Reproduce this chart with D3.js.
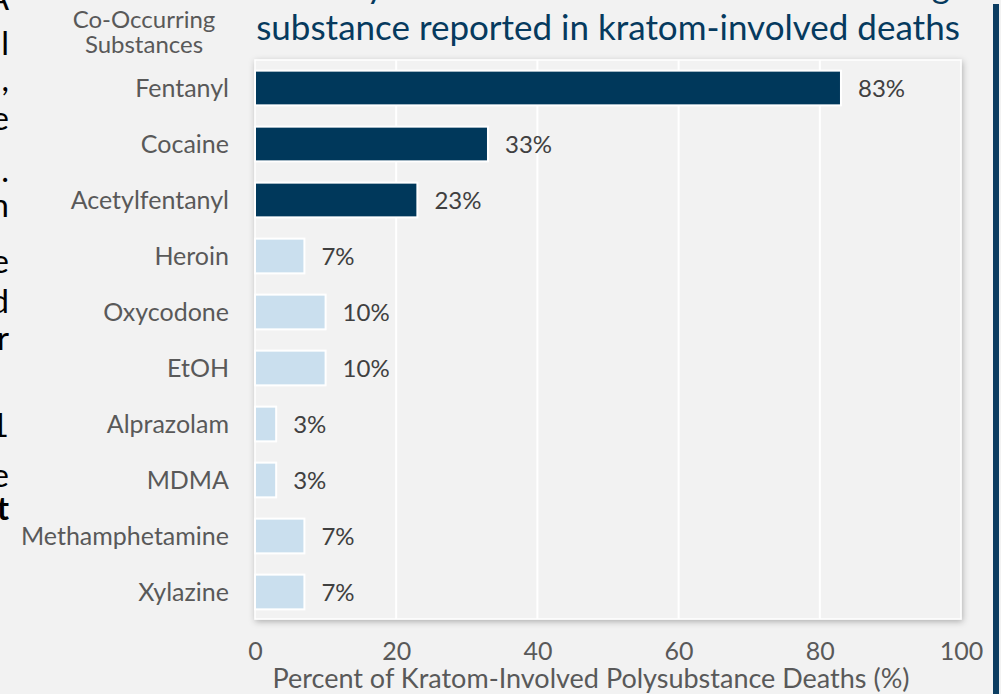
<!DOCTYPE html>
<html>
<head>
<meta charset="utf-8">
<script src="https://cdn.jsdelivr.net/npm/d3@7"></script>
<style>
  html, body { margin:0; padding:0; background:#f2f2f2; overflow:hidden; }
  svg { display:block; font-family: Lato, "Open Sans", sans-serif; }
</style>
</head>
<body>
<svg id="chart" width="1001" height="694"></svg>
<script>
// chart data
const substances = ["Fentanyl", "Cocaine", "Acetylfentanyl", "Heroin", "Oxycodone",
                    "EtOH", "Alprazolam", "MDMA", "Methamphetamine", "Xylazine"];
const percents = [83, 33, 23, 7, 10, 10, 3, 3, 7, 7];
const highlighted = [true, true, true, false, false, false, false, false, false, false];
const xTicks = [0, 20, 40, 60, 80, 100];
const titleLines = ["Fentanyl was the most common co-occurring", "substance reported in kratom-involved deaths"];
const yTitle = ["Co-Occurring", "Substances"];
const xTitle = "Percent of Kratom-Involved Polysubstance Deaths (%)";
// cut-off ends of the slide's body text on the left edge
const sideChars = ["A", "l", ",", "e", ".", "n", "e", "d", "r", "1", "e", "t"];
const sideBase  = [10, 55, 91, 130, 182, 217, 273, 313, 350, 437, 487, 520];

const W = 1001, H = 694;
const plot = {left:255, right:961, top:60, bottom:619};
const labelSize = 25;
const svg = d3.select("#chart");

// drop shadow for the plot frame
let defs = svg.append("defs");
let f = defs.append("filter").attr("id", "shadow")
  .attr("x", "-5%").attr("y", "-5%").attr("width", "110%").attr("height", "110%");
f.append("feDropShadow").attr("dx", 1).attr("dy", 2).attr("stdDeviation", 3)
  .attr("flood-color", "#000").attr("flood-opacity", 0.28);

svg.append("rect").attr("width", W).attr("height", H).attr("fill", "#f2f2f2");

// right accent bar of the slide
svg.append("rect").attr("x", 993).attr("y", 4).attr("width", 6).attr("height", H)
  .attr("fill", "#0c3d61");

// side text fragments
svg.append("g").selectAll("text").data(sideChars).enter().append("text")
  .attr("x", 9).attr("y", (d, i) => sideBase[i])
  .attr("text-anchor", "end")
  .attr("font-size", 33)
  .attr("font-weight", (d, i) => i == sideChars.length - 1 ? "bold" : "normal")
  .attr("fill", "#000")
  .text(d => d);

// title (first line is cut off by the top edge)
svg.append("text")
  .attr("x", 950).attr("y", -2)
  .attr("text-anchor", "end")
  .attr("font-size", 35)
  .attr("fill", "#063a5e")
  .text(titleLines[0]);
svg.append("text")
  .attr("x", 608).attr("y", 40)
  .attr("text-anchor", "middle")
  .attr("font-size", 35)
  .attr("fill", "#063a5e")
  .text(titleLines[1]);

const x = d3.scaleLinear().domain([0, 100]).range([plot.left, plot.right]);
const y = d3.scaleBand().domain(substances).range([plot.top, plot.top + 560]).paddingInner(0.38).paddingOuter(0.19);

// plot frame
svg.append("rect")
  .attr("x", plot.left).attr("y", plot.top)
  .attr("width", plot.right - plot.left).attr("height", plot.bottom - plot.top)
  .attr("fill", "#f2f2f2").attr("stroke", "#fff").attr("stroke-width", 1.5)
  .attr("filter", "url(#shadow)");

// gridlines
svg.append("g").selectAll("line").data(xTicks.slice(1, -1)).enter().append("line")
  .attr("x1", d => x(d)).attr("x2", d => x(d))
  .attr("y1", plot.top).attr("y2", plot.bottom)
  .attr("stroke", "#fff").attr("stroke-width", 2);

// bars
svg.append("g").selectAll("rect").data(percents).enter().append("rect")
  .attr("x", x(0))
  .attr("y", (d, i) => y(substances[i]))
  .attr("width", d => x(d) - x(0))
  .attr("height", y.bandwidth())
  .attr("fill", (d, i) => highlighted[i] ? "#00385b" : "#cadfee")
  .attr("stroke", "#fff").attr("stroke-width", 2);

// value labels
svg.append("g").selectAll("text").data(percents).enter().append("text")
  .attr("x", d => x(d) + 17)
  .attr("y", (d, i) => y(substances[i]) + y.bandwidth() / 2)
  .attr("dy", "0.36em")
  .attr("font-size", 24)
  .attr("fill", "#404040")
  .text(d => d + "%");

// y axis labels
const yAxis = d3.axisLeft(y).tickSize(0).tickPadding(26);
const gy = svg.append("g").attr("transform", `translate(${plot.left},0)`).call(yAxis)
  .attr("font-family", null).attr("font-size", null);
gy.select(".domain").remove();
gy.selectAll("text").attr("font-size", labelSize).attr("fill", "#595959").attr("dy", "0.36em");

// x axis labels
const xAxis = d3.axisBottom(x).tickValues(xTicks).tickSize(0).tickPadding(23).tickFormat(d3.format("d"));
const gx = svg.append("g").attr("transform", `translate(0,${plot.bottom})`).call(xAxis)
  .attr("font-family", null).attr("font-size", null);
gx.select(".domain").remove();
gx.selectAll("text").attr("font-size", labelSize).attr("fill", "#595959");

// axis titles
svg.append("g").selectAll("text").data(yTitle).enter().append("text")
  .attr("x", 144).attr("y", (d, i) => 28 + i * 25)
  .attr("text-anchor", "middle").attr("font-size", 24).attr("fill", "#595959")
  .text(d => d);
svg.append("text").attr("x", 591).attr("y", 688)
  .attr("text-anchor", "middle").attr("font-size", 27).attr("fill", "#595959")
  .text(xTitle);
</script>
</body>
</html>
